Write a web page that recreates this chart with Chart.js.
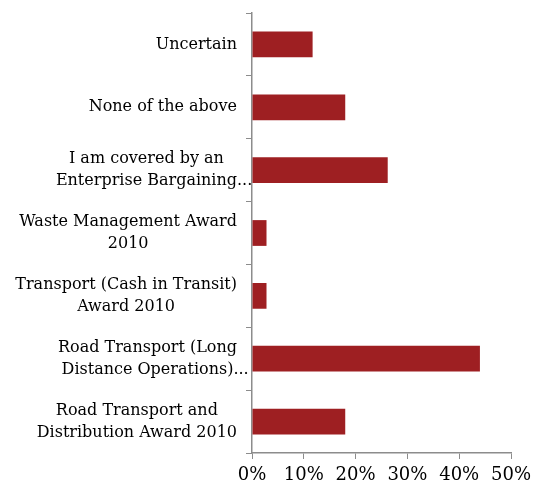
<!DOCTYPE html>
<html>
<head>
<meta charset="utf-8">
<script src="https://cdn.jsdelivr.net/npm/chart.js@4.4.1/dist/chart.umd.min.js"></script>
<style>
  html, body { margin: 0; padding: 0; background: #ffffff; }
  #wrap { width: 535px; height: 492px; position: relative; }
</style>
</head>
<body>
<div id="wrap"><canvas id="chart"></canvas></div>
<script>
const categories = [
  ["Uncertain"],
  ["None of the above"],
  ["I am covered by an", "Enterprise Bargaining..."],
  ["Waste Management Award", "2010"],
  ["Transport (Cash in Transit)", "Award 2010"],
  ["Road Transport (Long", "Distance Operations)..."],
  ["Road Transport and", "Distribution Award 2010"],
];
const shares = [11.7, 18.0, 26.2, 2.8, 2.8, 44.0, 18.0];
const xTicks = [0, 10, 20, 30, 40, 50];

const barColor = "#9e1f22";
const axisGray = "#8c8c8c";
const labelFont = "16px 'DejaVu Serif'";

// category labels: each block centred on itself, blocks right-aligned near the axis
const labelPlugin = {
  id: "blockLabels",
  afterDraw(chart) {
    const ctx = chart.ctx;
    const yScale = chart.scales.y;
    const rightEdge = yScale.right - 15;
    const lineHeight = 22;
    ctx.save();
    ctx.font = labelFont;
    ctx.fillStyle = "#000000";
    ctx.textAlign = "center";
    ctx.textBaseline = "middle";
    categories.forEach((lines, i) => {
      const y = yScale.getPixelForTick(i);
      const widths = lines.map((t) => ctx.measureText(t.replace(/\.\.\.$/, "")).width);
      const cx = rightEdge - Math.max(...widths) / 2;
      const top = y - ((lines.length - 1) * lineHeight) / 2;
      lines.forEach((t, j) => {
        const w = ctx.measureText(t).width;
        const trimmed = ctx.measureText(t.replace(/\.\.\.$/, "")).width;
        ctx.fillText(t, cx + (w - trimmed) / 2, top + j * lineHeight);
      });
    });
    ctx.restore();
  },
};

new Chart(document.getElementById("chart").getContext("2d"), {
  type: "bar",
  data: {
    labels: categories,
    datasets: [
      {
        data: shares,
        backgroundColor: barColor,
        borderColor: barColor,
        borderWidth: 0,
        barPercentage: 0.41,
        categoryPercentage: 1,
      },
    ],
  },
  options: {
    indexAxis: "y",
    animation: false,
    responsive: true,
    maintainAspectRatio: false,
    layout: { padding: { top: 13, right: 24, bottom: 0, left: 0 } },
    scales: {
      x: {
        min: 0,
        max: 50,
        afterBuildTicks: (scale) => {
          scale.ticks = xTicks.map((v) => ({ value: v }));
        },
        afterFit: (scale) => {
          scale.height = 39;
          scale.paddingRight = 0;
          scale.paddingLeft = 0;
        },
        ticks: {
          color: "#000000",
          font: { family: "DejaVu Serif", size: 18 },
          padding: 6,
          maxRotation: 0,
          callback: (value) => `${value}%`,
        },
        grid: {
          display: true,
          drawOnChartArea: false,
          drawTicks: true,
          tickLength: 6,
          color: axisGray,
        },
        border: { display: true, color: axisGray, width: 1.5 },
      },
      y: {
        afterFit: (scale) => {
          scale.width = 252;
        },
        ticks: { display: false },
        grid: {
          display: true,
          drawOnChartArea: false,
          drawTicks: true,
          tickLength: 6,
          color: axisGray,
          offset: true,
        },
        border: { display: true, color: axisGray, width: 1.5 },
      },
    },
    plugins: {
      legend: { display: false },
      tooltip: { enabled: false },
    },
  },
  plugins: [labelPlugin],
});
</script>
</body>
</html>
